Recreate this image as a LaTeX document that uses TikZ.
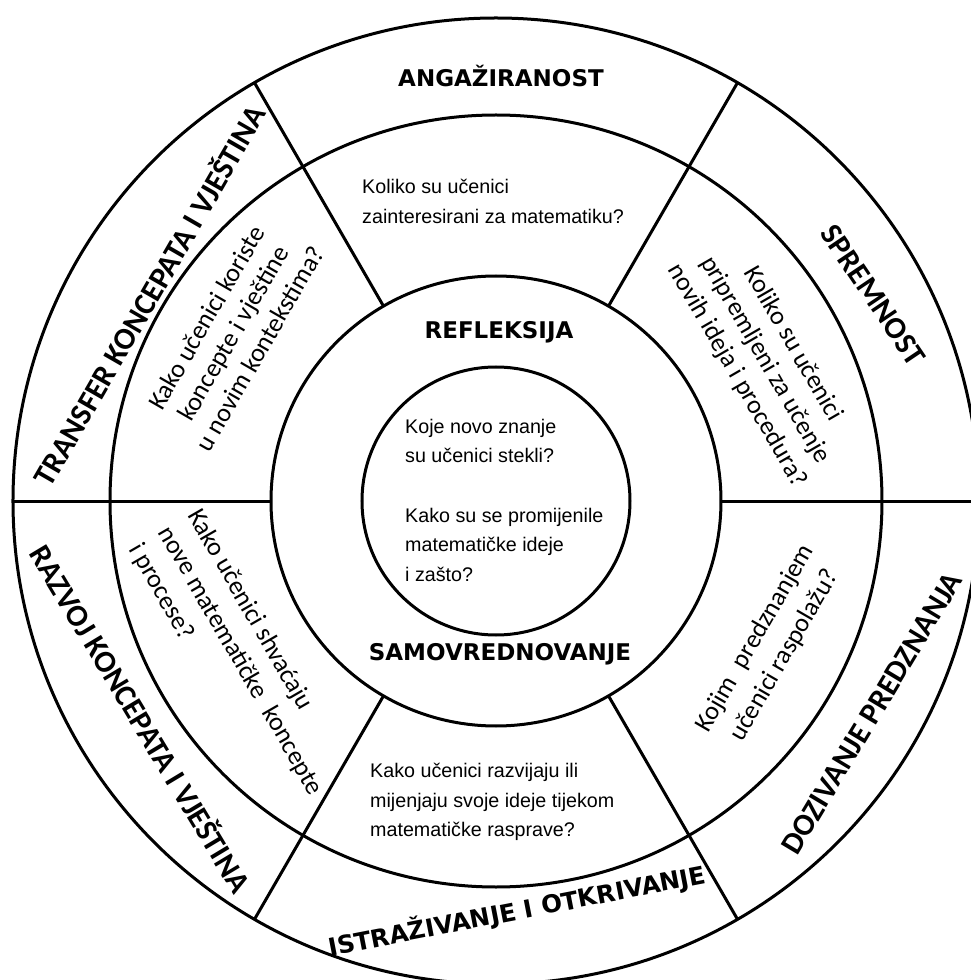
\documentclass[tikz,border=0pt]{standalone}
\usepackage{fontspec}
\setmainfont{Liberation Sans}
\newfontfamily\headfont{DejaVu Sans}
\newfontfamily\calfont{Carlito}
\begin{document}
\begin{tikzpicture}[x=1pt,y=1pt,
  ring/.style={line width=3pt},
  head/.style={font=\headfont\bfseries\fontsize{23}{28}\selectfont,inner sep=0pt},
  rhead/.style={font=\calfont\bfseries\fontsize{31}{36}\selectfont,inner sep=0pt},
  ques/.style={font=\fontsize{19.7}{29.5}\selectfont,align=left,inner sep=0pt,anchor=north west},
  rques/.style={font=\calfont\fontsize{26}{#1}\selectfont,align=center,inner sep=0pt},
  rques/.default=32]

\def \RA {483}
\def \RB {386}
\def \RC {225}
\def \RD {134}

\useasboundingbox (-496,-479) rectangle (475,501);
\clip (-496,-479) rectangle (475,501);

% rings and spokes
\foreach \r in {\RA,\RB,\RC,\RD}
  \draw[ring] (0,0) circle (\r);
\foreach \a in {0,60,...,300}
  \draw[ring] (\a:\RC) -- (\a:\RA);

% headings
\node[head] (eng) at (5,425) {ANGAŽIRANOST};
\node[head] (refl) at (3,169) {REFLEKSIJA};
\node[head] (samo) at (4,-153) {SAMOVREDNOVANJE};
\node[head,rotate=11,font=\headfont\bfseries\fontsize{24.5}{28}\selectfont] (istr) at (21,-410) {ISTRAŽIVANJE I OTKRIVANJE};
\node[rhead,rotate=60] (trans) at (-348,206) {TRANSFER KONCEPATA I VJEŠTINA};
\node[rhead,rotate=-59] (razv) at (-354,-217) {RAZVOJ KONCEPATA I VJEŠTINA};
\node[rhead,rotate=59] (doz) at (376,-212) {DOZIVANJE PREDZNANJA};
\node[rhead,rotate=-56] (sprem) at (377,206) {SPREMNOST};

% questions
\node[ques] (qeng) at (-134,322) {Koliko su učenici\\zainteresirani za matematiku?};
\node[ques] (qistr) at (-126,-262) {Kako učenici razvijaju ili\\mijenjaju svoje ideje tijekom\\matematičke rasprave?};
\node[ques] (qcore) at (-91,82) {Koje novo znanje\\su učenici stekli?\\[30pt]Kako su se promijenile\\matematičke ideje\\i zašto?};
\node[rques=31,rotate=60] (qtrans) at (-263,168) {Kako učenici koriste\\koncepte i vještine\\u novim kontekstima?};
\node[rques=32,rotate=-60] (qsprem) at (269,141) {Koliko su učenici\\pripremljeni za učenje\\novih ideja i procedura?};
\node[rques=34,rotate=60] (qdoz) at (274,-146) {Kojim\hspace{0.3em} predznanjem\\učenici raspolažu?};
\node[rques=34,rotate=-60,align=left] (qrazv) at (-256,-160) {Kako učenici shvaćaju\\nove matematičke\hspace{0.3em} koncepte\\i procese?};

\end{tikzpicture}
\end{document}
